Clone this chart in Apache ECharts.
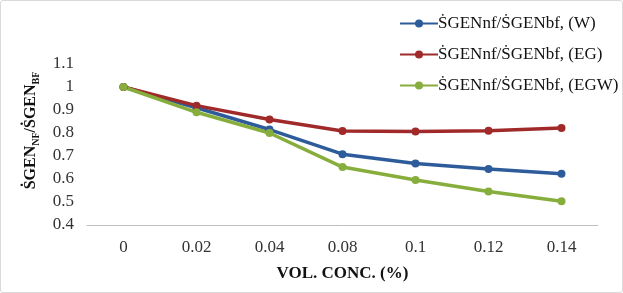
<!DOCTYPE html>
<html lang="en">
<head>
    <meta charset="UTF-8">
    <title>SGEN ratio</title>
    <script src="https://cdn.jsdelivr.net/npm/echarts@6/dist/echarts.min.js"></script>
    <style>
        body { margin: 0; background: #fff; }
        #main { width: 623px; height: 293px; box-sizing: border-box; border: 1px solid #d9d9d9; border-radius: 3px; }
    </style>
</head>
<body>
    <div id="main"></div>
    <script>
        var categories = ['0', '0.02', '0.04', '0.08', '0.1', '0.12', '0.14'];
        var seriesW = [1.0, 0.91, 0.815, 0.708, 0.667, 0.643, 0.623];
        var seriesEG = [1.0, 0.919, 0.859, 0.809, 0.806, 0.81, 0.822];
        var seriesEGW = [1.0, 0.89, 0.80, 0.652, 0.596, 0.546, 0.503];
        var names = ['ṠGENnf/ṠGENbf, (W)', 'ṠGENnf/ṠGENbf, (EG)', 'ṠGENnf/ṠGENbf, (EGW)'];
        var colors = ['#2e5c9b', '#a02a2a', '#87ae3c'];

        var serif = '"Liberation Serif", "DejaVu Serif", serif';
        var chart = echarts.init(document.getElementById('main'));

        function line(name, data, color) {
            return {
                name: name,
                type: 'line',
                data: data,
                symbol: 'circle',
                symbolSize: 8,
                itemStyle: { color: color },
                lineStyle: { color: color, width: 3.5 }
            };
        }

        var option = {
            animation: false,
            textStyle: { fontFamily: serif },
            legend: {
                orient: 'vertical',
                left: 393,
                top: 9,
                itemWidth: 38,
                itemHeight: 10,
                itemGap: 14,
                textStyle: { fontFamily: serif, fontSize: 17, color: '#111', padding: [0, 0, 0, -5] },
                data: names
            },
            grid: { left: 86, right: 24, top: 63, bottom: 67 },
            xAxis: {
                type: 'category',
                data: categories,
                boundaryGap: true,
                axisLine: { lineStyle: { color: '#bfbfbf', width: 1 } },
                axisTick: { show: false },
                axisLabel: { fontFamily: serif, fontSize: 17, color: '#333', margin: 14 },
                name: 'VOL. CONC. (%)',
                nameLocation: 'middle',
                nameGap: 40,
                nameTextStyle: { fontFamily: serif, fontSize: 17, fontWeight: 'bold', color: '#111' }
            },
            yAxis: {
                type: 'value',
                min: 0.4,
                max: 1.1,
                interval: 0.1,
                splitLine: { show: false },
                axisLine: { show: false },
                axisTick: { show: false },
                axisLabel: { fontFamily: serif, fontSize: 17, color: '#333', margin: 13 },
                name: '{a|ṠGEN}{s|NF}{a|/ṠGEN}{s|BF}',
                nameLocation: 'middle',
                nameRotate: 90,
                nameGap: 46,
                nameTextStyle: {
                    padding: [0, 0, 0, 28],
                    rich: {
                        a: { fontFamily: serif, fontSize: 16, fontWeight: 'bold', color: '#111', lineHeight: 20 },
                        s: { fontFamily: serif, fontSize: 10, fontWeight: 'bold', color: '#111', lineHeight: 20, verticalAlign: 'bottom', padding: [6, 0, 0, 0] }
                    }
                }
            },
            series: [
                line(names[0], seriesW, colors[0]),
                line(names[1], seriesEG, colors[1]),
                line(names[2], seriesEGW, colors[2])
            ]
        };
        chart.setOption(option);
    </script>
</body>
</html>
